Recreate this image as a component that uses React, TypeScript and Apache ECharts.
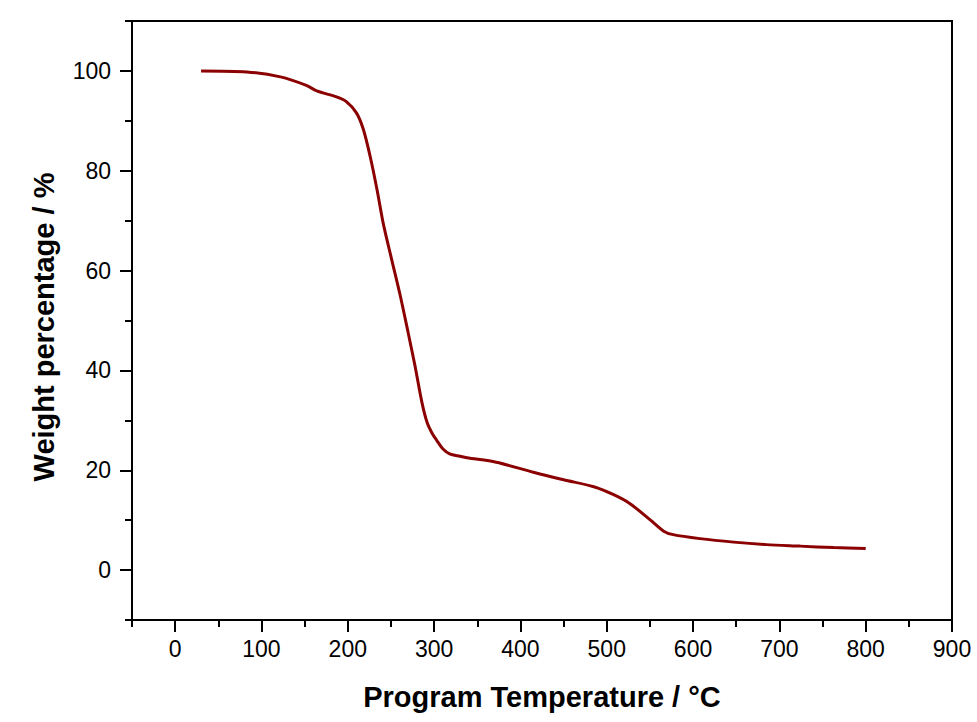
import React, { useEffect, useRef } from "react";
import * as echarts from "echarts";

const temperature = [30, 83, 122, 152, 164, 187, 198, 210, 218, 226, 234, 241, 251, 261, 270, 278, 286, 292, 298, 303, 310, 318, 330, 338, 372, 415, 450, 485, 508, 527, 550, 566, 577, 608, 647, 685, 724, 763, 800];
const weight = [100, 99.8, 98.8, 97.1, 96, 94.8, 93.9, 91.6, 88.3, 82.8, 76.1, 69.5, 62.1, 54.8, 47.5, 40.8, 33.5, 29.5, 27.3, 26.0, 24.3, 23.3, 22.8, 22.5, 21.6, 19.6, 18.1, 16.7, 15.1, 13.3, 10.1, 7.8, 7.1, 6.3, 5.6, 5.1, 4.8, 4.5, 4.3];

const xTitle = "Program Temperature / °C";
const yTitle = "Weight percentage / %";

export default function App() {
  const ref = useRef<HTMLDivElement>(null);
  useEffect(() => {
    document.body.style.margin = "0";
    const chart = echarts.init(ref.current!, undefined, { renderer: "svg" });
    const W = 977, H = 722;
    const gL = 132, gR = 25, gT = 21, gB = 102;
    const plotW = W - gL - gR;
    const plotH = H - gT - gB;
    const xMin = -50, xMax = 900, yMin = -10, yMax = 110;
    const pxPerX = plotW / (xMax - xMin);
    const pxPerY = plotH / (yMax - yMin);
    const font = "'Liberation Sans', Arial, sans-serif";
    const labelStyle = { color: "#000", fontSize: 23, fontFamily: font };
    const data = temperature.map((t, i) => [t, weight[i]]);
    chart.setOption({
      animation: false,
      backgroundColor: "#fff",
      grid: [
        { left: gL, right: gR, top: gT, bottom: gB, show: true, borderColor: "#000", borderWidth: 2, backgroundColor: "transparent" },
        { left: gL + 50 * pxPerX, right: gR, top: gT, bottom: gB },
        { left: gL, right: gR, top: gT + 10 * pxPerY, bottom: gB + 10 * pxPerY },
      ],
      xAxis: [
        {
          gridIndex: 0, type: "value", min: xMin, max: xMax, interval: 50,
          axisLine: { show: true, onZero: false, lineStyle: { color: "#000", width: 2 } },
          axisTick: { show: true, inside: false, length: 7, lineStyle: { color: "#000", width: 2 } },
          axisLabel: { show: false }, splitLine: { show: false },
        },
        {
          gridIndex: 1, type: "value", min: 0, max: 900, interval: 100,
          axisLine: { show: false, onZero: false },
          axisTick: { show: true, inside: false, length: 12, lineStyle: { color: "#000", width: 2 } },
          axisLabel: { ...labelStyle, margin: 17 }, splitLine: { show: false },
        },
        {
          gridIndex: 2, type: "value", min: xMin, max: xMax, show: false,
        },
      ],
      yAxis: [
        {
          gridIndex: 0, type: "value", min: yMin, max: yMax, interval: 10,
          axisLine: { show: true, onZero: false, lineStyle: { color: "#000", width: 2 } },
          axisTick: { show: true, inside: false, length: 7, lineStyle: { color: "#000", width: 2 } },
          axisLabel: { show: false }, splitLine: { show: false },
        },
        {
          gridIndex: 1, type: "value", min: yMin, max: yMax, show: false,
        },
        {
          gridIndex: 2, type: "value", min: 0, max: 100, interval: 20,
          axisLine: { show: false, onZero: false },
          axisTick: { show: true, inside: false, length: 12, lineStyle: { color: "#000", width: 2 } },
          axisLabel: { ...labelStyle, margin: 21 }, splitLine: { show: false },
        },
      ],
      series: [
        {
          type: "line", xAxisIndex: 0, yAxisIndex: 0, data,
          smooth: 0.3, showSymbol: false, symbol: "none",
          lineStyle: { color: "#8B0000", width: 3 },
        },
      ],
      graphic: [
        {
          type: "text", x: 542, y: 697,
          style: { text: xTitle, fill: "#000", font: `bold 29px ${font}`, textAlign: "center", textVerticalAlign: "middle" },
        },
        {
          type: "text", x: 44, y: 327, rotation: Math.PI / 2,
          style: { text: yTitle, fill: "#000", font: `bold 29px ${font}`, textAlign: "center", textVerticalAlign: "middle" },
        },
      ],
    });
    return () => chart.dispose();
  }, []);
  return <div ref={ref} style={{ width: 977, height: 722 }} />;
}
